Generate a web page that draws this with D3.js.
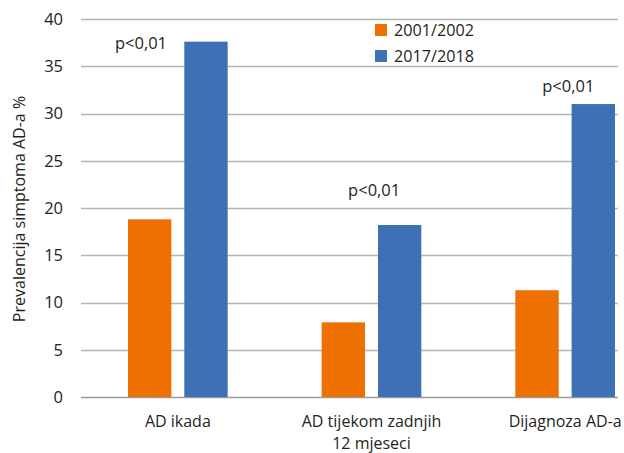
<!DOCTYPE html>
<html>
<head>
<meta charset="utf-8">
<script src="https://cdn.jsdelivr.net/npm/d3@7"></script>
<style>
  body { margin: 0; background: #fff; }
  text { font-family: "Open Sans", sans-serif; fill: #231f20; }
</style>
</head>
<body>
<svg></svg>
<script>
var WIDTH = 624;
var HEIGHT = 453;

var categories = ["AD ikada", "AD tijekom zadnjih|12 mjeseci", "Dijagnoza AD-a"];
var seriesNames = ["2001/2002", "2017/2018"];
var values2001 = [18.8, 7.9, 11.3];
var values2017 = [37.6, 18.2, 31.0];
var colors = ["#ee7000", "#3d70b5"];
var yTicks = [0, 5, 10, 15, 20, 25, 30, 35, 40];
var pLabels = ["p<0,01", "p<0,01", "p<0,01"];
var pLabelLevels = [36.8, 21.3, 32.3];   // baseline of each p label, in y units

var svg = d3.select("svg")
    .attr("width", WIDTH)
    .attr("height", HEIGHT);

var x0 = d3.scaleBand()
    .domain(d3.range(categories.length))
    .range([81, 662]);

var x1 = d3.scaleBand()
    .domain(d3.range(seriesNames.length))
    .range([47, x0.bandwidth() - 47])
    .paddingInner(0.23);

var y = d3.scaleLinear()
    .domain([0, 40])
    .range([397, 19]);

// grid lines
svg.append("g")
    .selectAll("line")
    .data(yTicks)
    .enter()
    .append("line")
    .attr("x1", 81)
    .attr("x2", 618)
    .attr("y1", function(d) { return Math.round(y(d)) + 0.5; })
    .attr("y2", function(d) { return Math.round(y(d)) + 0.5; })
    .attr("stroke", function(d) { return d === 0 ? "#9a9a9a" : "#b5b5b5"; })
    .attr("stroke-width", 1.3);

// y tick labels
svg.append("g")
    .selectAll("text")
    .data(yTicks)
    .enter()
    .append("text")
    .attr("x", 63)
    .attr("y", function(d) { return y(d); })
    .attr("dy", "0.36em")
    .attr("text-anchor", "end")
    .style("font-size", "16.5px")
    .text(function(d) { return d; });

// y title
svg.append("text")
    .attr("transform", "translate(25,209) rotate(-90)")
    .attr("text-anchor", "middle")
    .style("font-size", "16px")
    .text("Prevalencija simptoma AD-a %");

// bars
var rows = categories.map(function(c, i) {
    return [values2001[i], values2017[i]];
});

var groups = svg.append("g")
    .selectAll("g")
    .data(rows)
    .enter()
    .append("g")
    .attr("transform", function(d, i) { return "translate(" + x0(i) + ",0)"; });

groups.selectAll("rect")
    .data(function(d) { return d; })
    .enter()
    .append("rect")
    .attr("x", function(d, j) { return x1(j); })
    .attr("width", x1.bandwidth())
    .attr("y", function(d) { return y(d); })
    .attr("height", function(d) { return y(0) - y(d); })
    .attr("fill", function(d, j) { return colors[j]; });

// category labels (second line as its own text)
var catLines = [];
categories.forEach(function(c, i) {
    c.split("|").forEach(function(s, k) {
        catLines.push({ i: i, k: k, s: s });
    });
});

svg.append("g")
    .selectAll("text")
    .data(catLines)
    .enter()
    .append("text")
    .attr("text-anchor", "middle")
    .attr("x", function(d) { return x0(d.i) + x0.bandwidth() / 2; })
    .attr("y", function(d) { return 427 + d.k * 21.5; })
    .style("font-size", "16px")
    .text(function(d) { return d.s; });

// p labels
var pOffsets = [60, 99.5, 100];
svg.append("g")
    .selectAll("text")
    .data(pLabels)
    .enter()
    .append("text")
    .attr("text-anchor", "middle")
    .attr("x", function(d, i) { return x0(i) + pOffsets[i]; })
    .attr("y", function(d, i) { return y(pLabelLevels[i]); })
    .style("font-size", "16.5px")
    .text(function(d) { return d; });

// legend
var legend = svg.append("g")
    .selectAll("g")
    .data(seriesNames)
    .enter()
    .append("g")
    .attr("transform", function(d, i) { return "translate(375," + (24 + i * 26) + ")"; });

legend.append("rect")
    .attr("width", 12)
    .attr("height", 12)
    .attr("fill", function(d, i) { return colors[i]; });

legend.append("text")
    .attr("x", 19)
    .attr("y", 11.5)
    .style("font-size", "16.2px")
    .text(function(d) { return d; });
</script>
</body>
</html>
